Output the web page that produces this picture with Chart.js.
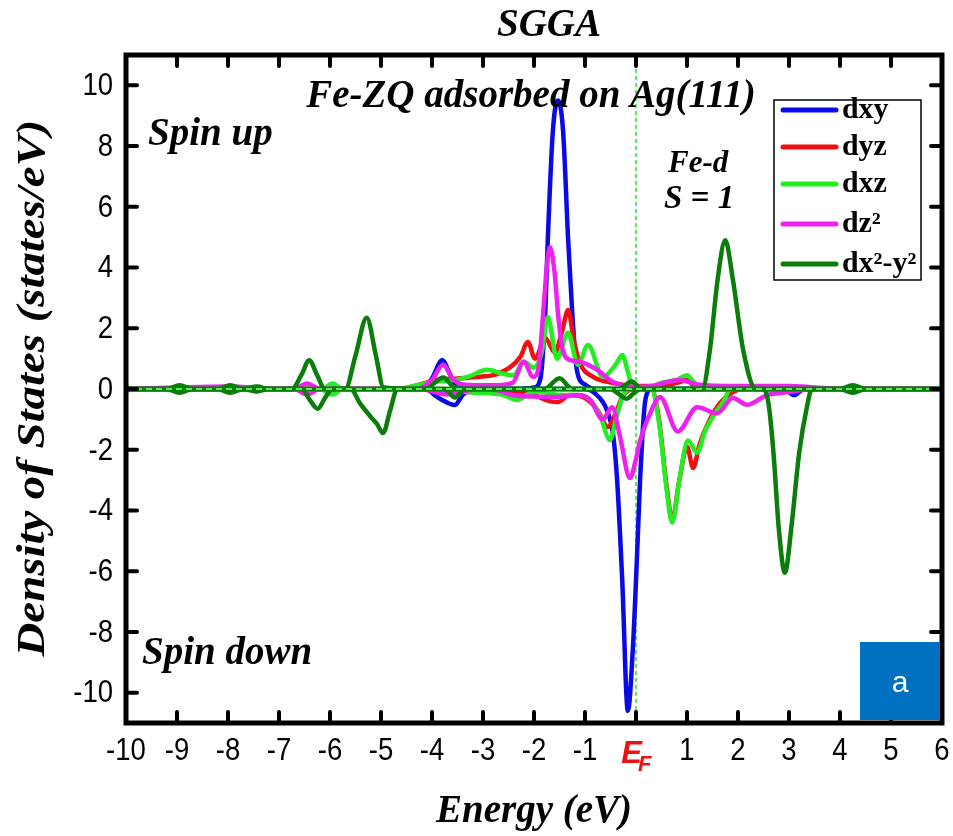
<!DOCTYPE html>
<html>
<head>
<meta charset="utf-8">
<title>SGGA Fe-d PDOS</title>
<script src="https://cdn.jsdelivr.net/npm/chart.js@4.4.3/dist/chart.umd.min.js"></script>
<style>
  html, body { margin: 0; padding: 0; background: #fff; }
</style>
</head>
<body>
<canvas id="dos" width="953" height="836"></canvas>
<script>
// tick positions
const xTickVals = [-10, -9, -8, -7, -6, -5, -4, -3, -2, -1, 0, 1, 2, 3, 4, 5, 6];
const yTickVals = [-10, -8, -6, -4, -2, 0, 2, 4, 6, 8, 10];

// orbital labels and colours
const orbitals = ['dxy', 'dyz', 'dxz', 'dz\u00B2', 'dx\u00B2-y\u00B2'];
const colors = ['#0a0ae6', '#ee1111', '#22ee22', '#ee22ee', '#0a7d0a'];

// dxy, spin up / spin down
const dxyUpE = [-10, -4.2, -4.0, -3.8, -3.65, -3.5, -2.3, -2.0, -1.88, -1.78, -1.73, -1.63, -1.53, -1.43, -1.33, -1.25, -1.16, -1.0, -0.8, 6];
const dxyUpY = [0, 0, 0.35, 0.95, 0.5, 0.05, 0, 0.05, 0.3, 2.5, 4.9, 8.5, 9.5, 8.5, 4.9, 2.5, 0.63, 0.15, 0, 0];
const dxyDnE = [-10, -4.1, -3.95, -3.7, -3.55, -3.4, -3.2, -1.0, -0.8, -0.57, -0.45, -0.37, -0.27, -0.16, -0.06, 0.02, 0.08, 0.18, 0.3, 2.9, 3.1, 3.3, 6];
const dxyDnY = [0, 0, -0.2, -0.45, -0.53, -0.2, 0, 0, -0.15, -0.7, -1.5, -3.0, -6.3, -10.6, -8.5, -5.5, -3.0, -0.4, 0, 0, -0.2, 0, 0];

// dyz
const dyzUpE = [-10, -4.6, -4.3, -3.9, -3.5, -3.06, -2.67, -2.27, -2.12, -1.98, -1.78, -1.59, -1.45, -1.33, -1.22, -1.1, -0.84, -0.45, 0, 0.5, 0.8, 1.0, 1.2, 6];
const dyzUpY = [0, 0, 0.12, 0.3, 0.35, 0.4, 0.53, 1.05, 1.55, 1.0, 1.68, 1.2, 1.9, 2.6, 1.6, 0.85, 0.4, 0.2, 0.1, 0.1, 0.2, 0.3, 0, 0];
const dyzDnE = [-10, -4.2, -3.9, -3.5, -2.5, -2.0, -1.7, -1.53, -1.3, -1.0, -0.75, -0.55, -0.4, -0.25, 0, 0.3, 0.45, 0.6, 0.71, 0.85, 1.0, 1.12, 1.25, 1.45, 1.65, 1.9, 2.1, 6];
const dyzDnY = [0, 0, -0.1, -0.1, -0.1, -0.2, -0.4, -0.43, -0.2, -0.3, -0.7, -1.25, -0.8, -0.2, 0, 0, -1.0, -3.2, -4.3, -3.0, -1.9, -2.6, -1.8, -1.0, -0.46, -0.1, 0, 0];

// dxz
const dxzUpE = [-10, -6.15, -5.95, -5.75, -4.7, -4.3, -3.9, -3.55, -3.3, -2.92, -2.6, -2.4, -2.2, -2.0, -1.85, -1.73, -1.55, -1.33, -1.14, -0.94, -0.65, -0.4, -0.27, -0.15, -0.06, 0.2, 0.5, 0.8, 1.0, 1.15, 1.3, 6];
const dxzUpY = [0, 0, 0.18, 0, 0, 0.12, 0.25, 0.3, 0.4, 0.63, 0.5, 0.45, 0.9, 0.7, 1.2, 2.37, 1.0, 1.85, 0.8, 1.45, 0.4, 0.8, 1.12, 0.5, 0, 0, 0.2, 0.3, 0.45, 0.2, 0, 0];
const dxzDnE = [-10, -6.2, -5.95, -5.75, -3.6, -3.3, -2.6, -2.33, -2.1, -1.9, -1.5, -1.2, -0.9, -0.7, -0.51, -0.38, -0.25, -0.1, 0.3, 0.45, 0.6, 0.71, 0.85, 1.02, 1.2, 1.35, 1.55, 1.72, 1.85, 6];
const dxzDnY = [0, 0, -0.18, 0, 0, -0.1, -0.2, -0.36, -0.15, -0.1, -0.2, -0.2, -0.35, -0.9, -1.68, -0.9, -0.2, 0, 0, -1.1, -3.3, -4.4, -3.0, -1.7, -2.1, -1.4, -0.8, -0.4, 0, 0];

// dz2
const dz2UpE = [-10, -9.0, -8.0, -7.0, -6.7, -6.45, -6.2, -4.3, -4.0, -3.78, -3.6, -3.4, -2.8, -2.42, -2.2, -2.02, -1.92, -1.82, -1.75, -1.69, -1.6, -1.53, -1.45, -1.35, -1.1, -0.76, -0.45, 0, 0.3, 0.86, 1.2, 2.0, 3.0, 3.5, 4.0, 6];
const dz2UpY = [0, 0.05, 0.08, 0, 0, 0.18, 0, 0, 0.3, 0.8, 0.35, 0.15, 0.12, 0.2, 0.9, 0.4, 0.6, 2.5, 4.0, 4.68, 3.9, 2.5, 1.4, 1.0, 0.9, 0.63, 0.23, 0.07, 0.1, 0.3, 0.15, 0.1, 0.1, 0.05, 0, 0];
const dz2DnE = [-10, -6.7, -6.45, -6.2, -4.2, -3.95, -3.7, -3.5, -3.0, -2.7, -2.42, -2.0, -1.53, -1.15, -0.9, -0.65, -0.47, -0.31, -0.12, 0.0, 0.08, 0.33, 0.47, 0.82, 1.2, 1.59, 1.9, 2.18, 2.57, 3.0, 3.5, 6];
const dz2DnY = [0, 0, -0.18, 0, 0, -0.1, -0.18, -0.1, 0, -0.05, -0.2, -0.25, -0.26, -0.2, -0.36, -1.0, -0.6, -1.6, -2.93, -2.3, -1.7, -0.6, -0.26, -1.4, -0.6, -0.8, -0.3, -0.52, -0.2, -0.1, 0, 0];

// dx2-y2
const dx2UpE = [-10, -9.8, -9.2, -8.95, -8.7, -8.2, -7.96, -7.7, -7.43, -7.2, -6.75, -6.55, -6.41, -6.25, -6.1, -5.7, -5.5, -5.28, -5.1, -4.95, -4.1, -3.95, -3.78, -3.6, -3.4, -1.8, -1.5, -1.25, -0.35, -0.08, 0.1, 1.3, 1.45, 1.6, 1.75, 1.9, 2.1, 2.35, 4.0, 4.25, 4.5, 6];
const dx2UpY = [0.05, 0, 0, 0.12, 0, 0, 0.12, 0, 0.08, 0, 0, 0.5, 0.95, 0.45, 0, 0, 1.1, 2.35, 1.1, 0.05, 0, 0.2, 0.38, 0.1, 0, 0, 0.35, 0, 0, 0.25, 0, 0, 1.3, 3.6, 4.9, 3.6, 1.3, 0, 0, 0.12, 0, 0];
const dx2DnE = [-10, -9.8, -9.2, -8.95, -8.7, -8.2, -7.96, -7.7, -7.43, -7.2, -6.55, -6.4, -6.24, -6.1, -5.95, -5.6, -5.4, -5.2, -5.08, -4.96, -4.82, -4.68, -3.75, -3.55, -3.35, -0.5, -0.35, -0.18, -0.02, 0.1, 2.5, 2.6, 2.7, 2.8, 2.92, 3.05, 3.2, 3.35, 3.45, 4.0, 4.25, 4.5, 6];
const dx2DnY = [-0.05, 0, 0, -0.12, 0, 0, -0.12, 0, -0.08, 0, 0, -0.35, -0.65, -0.3, 0, 0, -0.5, -0.92, -1.15, -1.45, -0.7, 0, 0, -0.28, 0, 0, -0.15, -0.32, -0.1, 0, 0, -0.5, -2.2, -4.6, -6.05, -4.5, -2.1, -0.6, 0, 0, -0.12, 0, 0];

// zero reference line
const zeroE = [-10, 6];
const zeroY = [0, 0];

const curves = [
  [dxyUpE, dxyUpY, dxyDnE, dxyDnY],
  [dyzUpE, dyzUpY, dyzDnE, dyzDnY],
  [dxzUpE, dxzUpY, dxzDnE, dxzDnY],
  [dz2UpE, dz2UpY, dz2DnE, dz2DnY],
  [dx2UpE, dx2UpY, dx2DnE, dx2DnY],
];
const drawOrder = [5, 4, 3, 2, 1];

function pts(E, Y) {
  return E.map((e, i) => ({ x: e, y: Y[i] }));
}

const datasets = [];
curves.forEach((c, k) => {
  [[c[0], c[1]], [c[2], c[3]]].forEach(([E, Y]) => {
    datasets.push({
      label: orbitals[k],
      data: pts(E, Y),
      borderColor: colors[k],
      borderWidth: 4.5,
      pointRadius: 0,
      fill: false,
      cubicInterpolationMode: 'monotone',
      order: drawOrder[k] + 1,
    });
  });
});
datasets.push({
  label: 'zero',
  data: pts(zeroE, zeroY),
  borderColor: '#0a7d0a',
  borderWidth: 4.5,
  pointRadius: 0,
  order: 1,
});
datasets.push({
  label: 'zero-dash',
  data: pts(zeroE, zeroY),
  borderColor: '#55ee55',
  borderWidth: 2,
  borderDash: [6, 4],
  pointRadius: 0,
  order: 0,
});

const serifBI = (s) => `italic bold ${s}px "Liberation Serif", "Times New Roman", serif`;
const sans = '"Liberation Sans", Arial, sans-serif';

// draw text squeezed/stretched along its baseline
function stretchText(ctx, text, x, y, sx, align) {
  ctx.save();
  ctx.translate(x, y);
  ctx.scale(sx, 1);
  ctx.textAlign = align;
  ctx.fillText(text, 0, 0);
  ctx.restore();
}

const decorations = {
  id: 'decorations',
  beforeDatasetsDraw(chart) {
    const { ctx, chartArea: a, scales: { x } } = chart;
    // vertical Fermi level line
    const x0 = x.getPixelForValue(0);
    ctx.save();
    ctx.strokeStyle = '#33dd33';
    ctx.lineWidth = 1.5;
    ctx.setLineDash([4, 3]);
    ctx.beginPath();
    ctx.moveTo(x0, a.top);
    ctx.lineTo(x0, a.bottom);
    ctx.stroke();
    ctx.restore();
  },
  afterDraw(chart) {
    const { ctx, chartArea: a, scales: { x, y } } = chart;
    ctx.save();

    // frame
    ctx.strokeStyle = '#000';
    ctx.lineWidth = 5;
    ctx.strokeRect(a.left, a.top, a.right - a.left, a.bottom - a.top);

    // inward ticks
    ctx.lineWidth = 4;
    ctx.lineCap = 'round';
    const tl = 11;
    xTickVals.forEach((v) => {
      const px = x.getPixelForValue(v);
      if (v === -10 || v === 6) return;
      ctx.beginPath();
      ctx.moveTo(px, a.bottom); ctx.lineTo(px, a.bottom - tl);
      ctx.moveTo(px, a.top); ctx.lineTo(px, a.top + tl);
      ctx.stroke();
    });
    yTickVals.forEach((v) => {
      const py = y.getPixelForValue(v);
      ctx.beginPath();
      ctx.moveTo(a.left, py); ctx.lineTo(a.left + tl, py);
      ctx.moveTo(a.right, py); ctx.lineTo(a.right - tl, py);
      ctx.stroke();
    });

    // tick labels
    ctx.fillStyle = '#000';
    ctx.font = `32px ${sans}`;
    ctx.textBaseline = 'middle';
    xTickVals.forEach((v) => {
      if (v === 0) return;
      stretchText(ctx, String(v), x.getPixelForValue(v), a.bottom + 28, 0.86, 'center');
    });
    yTickVals.forEach((v) => {
      stretchText(ctx, String(v), a.left - 13, y.getPixelForValue(v) + 1, 0.86, 'right');
    });

    // E_F tick label
    const x0 = x.getPixelForValue(0);
    ctx.textBaseline = 'alphabetic';
    ctx.fillStyle = '#ee1111';
    ctx.font = `italic bold 31px ${sans}`;
    ctx.textAlign = 'right';
    ctx.fillText('E', x0 + 6, 763);
    ctx.font = `italic bold 22px ${sans}`;
    ctx.textAlign = 'left';
    ctx.fillText('F', x0 + 2, 771);

    // titles and annotations
    ctx.fillStyle = '#000';
    ctx.textAlign = 'center';
    ctx.font = serifBI(39);
    ctx.fillText('SGGA', 549, 36);
    ctx.fillText('Energy (eV)', 534, 822);
    ctx.fillText('Fe-ZQ adsorbed on Ag(111)', 531, 107);
    ctx.textAlign = 'left';
    ctx.fillText('Spin up', 148, 145);
    ctx.fillText('Spin down', 142, 664);
    ctx.font = serifBI(31);
    ctx.fillText('Fe-d', 668, 172);
    ctx.font = serifBI(33);
    ctx.fillText('S = 1', 664, 208);

    ctx.save();
    ctx.translate(44, 388);
    ctx.rotate(-Math.PI / 2);
    ctx.scale(1.2, 1);
    ctx.textAlign = 'center';
    ctx.font = serifBI(39);
    ctx.fillText('Density of States (states/eV)', 0, 0);
    ctx.restore();

    // legend
    const lx = 774, ly = 100, lw = 147, lh = 180;
    ctx.fillStyle = '#fff';
    ctx.fillRect(lx, ly, lw, lh);
    ctx.strokeStyle = '#000';
    ctx.lineWidth = 1.5;
    ctx.strokeRect(lx, ly, lw, lh);
    const rows = [110, 147, 184, 224, 264];
    orbitals.forEach((name, k) => {
      ctx.strokeStyle = colors[k];
      ctx.lineWidth = 5;
      ctx.beginPath();
      ctx.moveTo(783, rows[k]); ctx.lineTo(836, rows[k]);
      ctx.stroke();
      ctx.fillStyle = '#000';
      ctx.font = 'bold 29px "Liberation Serif", "Times New Roman", serif';
      stretchText(ctx, name, 842, rows[k] + 8, 1.03, 'left');
    });

    // panel tag
    ctx.fillStyle = '#0070c0';
    ctx.fillRect(860, 642, 80, 78);
    ctx.fillStyle = '#fff';
    ctx.font = `30px ${sans}`;
    ctx.textAlign = 'center';
    ctx.fillText('a', 900, 692);

    ctx.restore();
  },
};

new Chart(document.getElementById('dos'), {
  type: 'line',
  data: { datasets },
  options: {
    responsive: false,
    animation: false,
    layout: { padding: { top: 55, right: 11, left: 0, bottom: 0 } },
    plugins: { legend: { display: false }, tooltip: { enabled: false } },
    scales: {
      x: {
        type: 'linear',
        min: -10,
        max: 6,
        afterBuildTicks: (s) => { s.ticks = xTickVals.map((v) => ({ value: v })); },
        afterFit: (s) => { s.height = 113; s.paddingLeft = 0; s.paddingRight = 0; },
        grid: { display: false },
        border: { display: false },
        ticks: { display: false },
      },
      y: {
        min: -11,
        max: 11,
        afterBuildTicks: (s) => { s.ticks = yTickVals.map((v) => ({ value: v })); },
        afterFit: (s) => { s.width = 126; s.paddingTop = 0; s.paddingBottom = 0; },
        grid: { display: false },
        border: { display: false },
        ticks: { display: false },
      },
    },
  },
  plugins: [decorations],
});
</script>
</body>
</html>
